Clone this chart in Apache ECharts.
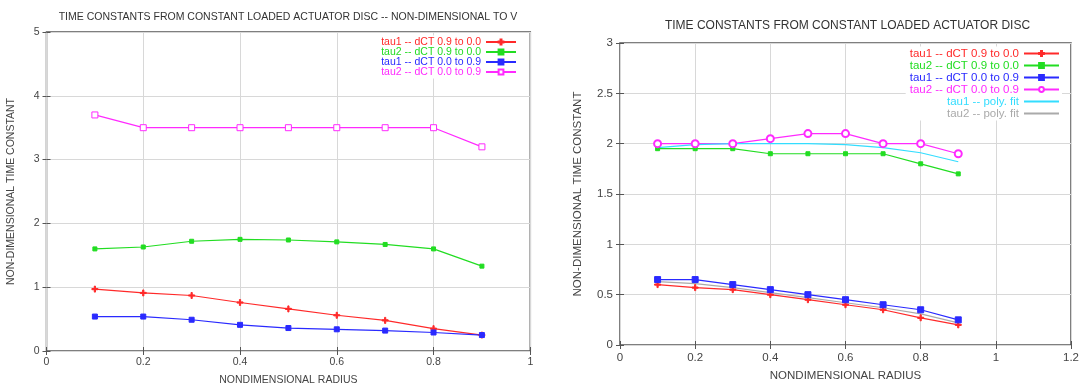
<!DOCTYPE html>
<html>
<head>
<meta charset="utf-8">
<script src="https://cdn.jsdelivr.net/npm/echarts@6/dist/echarts.min.js"></script>
<style>
html,body{margin:0;padding:0;background:#fff;}
#c1{position:absolute;left:0;top:0;width:560px;height:383px;}
#c2{position:absolute;left:560px;top:0;width:522px;height:383px;}
</style>
</head>
<body>
<div id="c1"></div>
<div id="c2"></div>
<script>
// ---- data ----
const radius = [0.1, 0.2, 0.3, 0.4, 0.5, 0.6, 0.7, 0.8, 0.9];

// left chart (non-dimensional to V)
const leftTau1Down = [0.97, 0.91, 0.87, 0.76, 0.66, 0.56, 0.48, 0.35, 0.25];
const leftTau2Down = [1.60, 1.63, 1.72, 1.75, 1.74, 1.71, 1.67, 1.60, 1.33];
const leftTau1Up   = [0.54, 0.54, 0.49, 0.41, 0.36, 0.34, 0.32, 0.29, 0.25];
const leftTau2Up   = [3.70, 3.50, 3.50, 3.50, 3.50, 3.50, 3.50, 3.50, 3.20];

// right chart
const rightTau1Down = [0.60, 0.57, 0.55, 0.50, 0.45, 0.40, 0.35, 0.27, 0.20];
const rightTau2Down = [1.95, 1.95, 1.95, 1.90, 1.90, 1.90, 1.90, 1.80, 1.70];
const rightTau1Up   = [0.65, 0.65, 0.60, 0.55, 0.50, 0.45, 0.40, 0.35, 0.25];
const rightTau2Up   = [2.00, 2.00, 2.00, 2.05, 2.10, 2.10, 2.00, 2.00, 1.90];
const rightFitCyan  = [1.96, 1.99, 2.00, 2.00, 2.00, 1.99, 1.96, 1.91, 1.82];
const rightFitGray  = [0.63, 0.61, 0.57, 0.52, 0.47, 0.42, 0.37, 0.31, 0.22];

const names = ['tau1 -- dCT 0.9 to 0.0', 'tau2 -- dCT 0.9 to 0.0', 'tau1 -- dCT 0.0 to 0.9', 'tau2 -- dCT 0.0 to 0.9', 'tau1 -- poly. fit', 'tau2 -- poly. fit'];
const leftTitle = 'TIME CONSTANTS FROM CONSTANT LOADED ACTUATOR DISC -- NON-DIMENSIONAL TO V';
const rightTitle = 'TIME CONSTANTS FROM CONSTANT LOADED ACTUATOR DISC';
const xName = 'NONDIMENSIONAL RADIUS';
const yName = 'NON-DIMENSIONAL TIME CONSTANT';

const COL = {red:'#ff2a2a', green:'#22dd22', blue:'#2a2aff', magenta:'#ff2aff', cyan:'#33ddff', gray:'#aaaaaa'};
const PLUS = 'path://M4,0h2v10h-2z M0,4h10v2h-10z';
const FONT = 'Liberation Sans, Arial, sans-serif';

function pairs(ys){ return radius.map((x,i)=>[x, ys[i]]); }

function mkSeries(name, ys, color, symbol, size, filled){
  return {
    name, type:'line', data: pairs(ys), symbol: symbol || 'none', symbolSize: size || 0,
    showSymbol: !!symbol,
    lineStyle:{color, width:1.2},
    itemStyle:{color: filled===false ? '#fff' : color, borderColor: color, borderWidth: 1},
    emphasis:{disabled:true}, animation:false, z: 3
  };
}

function axes(xmax, xint, ymax, yint, fs, xgap, ygap, xmargin){
  const lab = {color:'#444', fontSize: fs, fontFamily: FONT};
  const nameStyle = {color:'#444', fontSize: fs, fontFamily: FONT};
  return {
    xAxis: [
      {type:'value', min:0, max:xmax, interval:xint, name:xName, nameLocation:'middle', nameGap:xgap,
       nameTextStyle:nameStyle, axisLabel:Object.assign({margin:xmargin}, lab),
       axisLine:{show:false}, axisTick:{inside:true, length:4, lineStyle:{color:'#555'}},
       splitLine:{show:true, lineStyle:{color:'#d8d8d8', width:1}}},
      {type:'value', position:'top', min:0, max:xmax, interval:xint, axisLabel:{show:false},
       axisLine:{show:false}, axisTick:{inside:true, length:4, lineStyle:{color:'#555'}}, splitLine:{show:false}}
    ],
    yAxis: [
      {type:'value', min:0, max:ymax, interval:yint, name:yName, nameLocation:'middle', nameGap:ygap,
       nameTextStyle:nameStyle, axisLabel:Object.assign({margin:7}, lab),
       axisLine:{show:false}, axisTick:{inside:true, length:4, lineStyle:{color:'#555'}},
       splitLine:{show:true, lineStyle:{color:'#d8d8d8', width:1}}},
      {type:'value', position:'right', min:0, max:ymax, interval:yint, axisLabel:{show:false},
       axisLine:{show:false}, axisTick:{inside:true, length:4, lineStyle:{color:'#555'}}, splitLine:{show:false}}
    ]
  };
}

function legend(items, colors, noMarker, right, top, fs, lh, w, gap){
  return {
    orient:'vertical', right, top, align:'right', padding:[1,2,1,4], backgroundColor:'#fff',
    itemWidth:w, itemHeight:6, itemGap:gap,
    textStyle:{fontSize:fs, fontFamily:FONT, lineHeight:lh, height:lh},
    data: items.map((n,i)=>{
      const d = {name:n, textStyle:{color:colors[i]}};
      if (noMarker && noMarker[i]) d.itemStyle = {opacity:0};
      return d;
    }),
    selectedMode:false
  };
}

// left chart
const c1 = echarts.init(document.getElementById('c1'));
const a1 = axes(1, 0.2, 5, 1, 10.5, 24, 30, 6);
c1.setOption({
  animation:false,
  title:{text:leftTitle, left:283, top:7, textAlign:'center', textStyle:{fontSize:10.5, fontWeight:'normal', color:'#333', fontFamily:FONT}},
  grid:{left:46.5, right:29.7, top:32, bottom:32, show:true, borderColor:'#555', borderWidth:1.5, outerBoundsMode:'none', containLabel:false},
  xAxis:a1.xAxis, yAxis:a1.yAxis,
  legend: legend(names.slice(0,4), [COL.red, COL.green, COL.blue, COL.magenta], null, 41, 35.5, 10.5, 10, 30, -1),
  series:[
    mkSeries(names[0], leftTau1Down, COL.red, PLUS, 6),
    mkSeries(names[1], leftTau2Down, COL.green, 'rect', 4),
    mkSeries(names[2], leftTau1Up, COL.blue, 'rect', 5),
    mkSeries(names[3], leftTau2Up, COL.magenta, 'rect', 6, false)
  ]
});

// right chart
const c2 = echarts.init(document.getElementById('c2'));
const a2 = axes(1.2, 0.2, 3, 0.5, 11.5, 25, 36, 7);
c2.setOption({
  animation:false,
  title:{text:rightTitle, left:282.5, top:15, textAlign:'center', textStyle:{fontSize:12, fontWeight:'normal', color:'#333', fontFamily:FONT}},
  grid:{left:60, right:11, top:43, bottom:38, show:true, borderColor:'#555', borderWidth:1.5, outerBoundsMode:'none', containLabel:false},
  xAxis:a2.xAxis, yAxis:a2.yAxis,
  legend: legend(names, [COL.red, COL.green, COL.blue, COL.magenta, COL.cyan, COL.gray],
                 [false, false, false, false, true, true], 20, 46.5, 11.5, 11.7, 35, 0),
  series:[
    mkSeries(names[0], rightTau1Down, COL.red, PLUS, 6),
    mkSeries(names[1], rightTau2Down, COL.green, 'rect', 4),
    mkSeries(names[2], rightTau1Up, COL.blue, 'rect', 6),
    mkSeries(names[3], rightTau2Up, COL.magenta, 'emptyCircle', 7),
    mkSeries(names[4], rightFitCyan, COL.cyan),
    mkSeries(names[5], rightFitGray, COL.gray)
  ]
});
</script>
</body>
</html>
